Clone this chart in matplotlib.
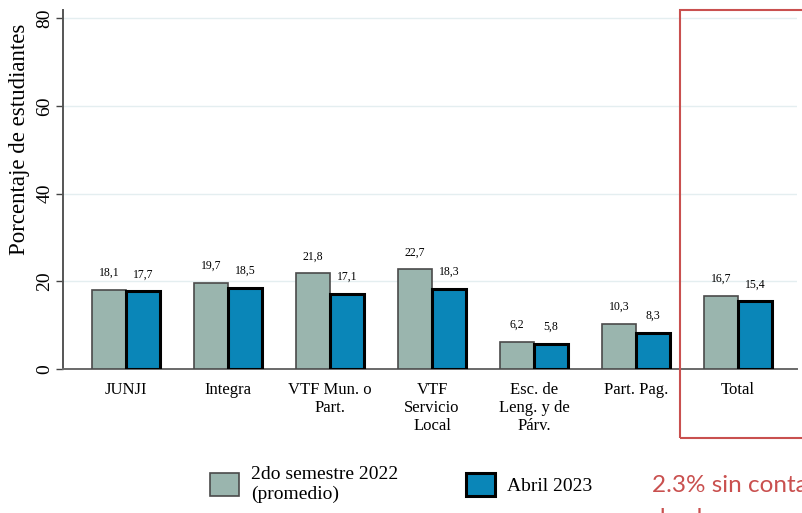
import matplotlib
matplotlib.use("Agg")
import matplotlib.pyplot as plt
from matplotlib.patches import Patch, Rectangle
import numpy as np

categories = ["JUNJI", "Integra", "VTF Mun. o\nPart.", "VTF\nServicio\nLocal",
              "Esc. de\nLeng. y de\nPárv.", "Part. Pag.", "Total"]
sem2_2022 = [18.1, 19.7, 21.8, 22.7, 6.2, 10.3, 16.7]
abril_2023 = [17.7, 18.5, 17.1, 18.3, 5.8, 8.3, 15.4]
series_names = ["2do semestre 2022\n(promedio)", "Abril 2023"]
y_ticks = [0, 20, 40, 60, 80]

gray = "#9ab5ae"
blue = "#0a86b8"
red = "#c9504f"
serif = "Liberation Serif"

W, H = 802, 513
fig = plt.figure(figsize=(W / 100, H / 100), dpi=100)
ax = fig.add_axes([63 / W, 144 / H, 734 / W, 359 / H])

x = np.arange(len(categories))
w = 0.333
b1 = ax.bar(x - w / 2, sem2_2022, w, color=gray, edgecolor="#4a4a4a", linewidth=1.2, zorder=3)
b2 = ax.bar(x + w / 2, abril_2023, w, color=blue, edgecolor="#000000", linewidth=2.2, zorder=3)

def fmt(v):
    return f"{v:.1f}".replace(".", ",")

for bars, vals in ((b1, sem2_2022), (b2, abril_2023)):
    for r, v in zip(bars, vals):
        ax.annotate(fmt(v), (r.get_x() + r.get_width() / 2, v), xytext=(0, 8),
                    textcoords="offset points", ha="center", va="bottom",
                    fontsize=8.5, family=serif)

ax.set_xlim(-0.62, 6.58)
ax.set_ylim(0, 81.9)
ax.set_xticks(x)
ax.set_xticklabels(categories, fontsize=12, family=serif, va="top")
ax.tick_params(axis="x", length=0, pad=9)
ax.set_yticks(y_ticks)
ax.set_yticklabels([str(t) for t in y_ticks], fontsize=14, family=serif,
                   rotation=90, va="center")
ax.tick_params(axis="y", length=5, width=1, pad=2, color="#444444")
ax.yaxis.grid(True, color="#e4eef0", linewidth=1, zorder=0)

for s in ("top", "right"):
    ax.spines[s].set_visible(False)
ax.spines["left"].set_color("#555555")
ax.spines["left"].set_linewidth(1.4)
ax.spines["bottom"].set_color("#6a6a6a")
ax.spines["bottom"].set_linewidth(1.4)

fig.text(20 / W, 1 - 139 / H, "Porcentaje de estudiantes", rotation=90,
         ha="center", va="center", fontsize=16.5, family=serif)

handles = [Patch(facecolor=gray, edgecolor="#4a4a4a", linewidth=1.2),
           Patch(facecolor=blue, edgecolor="#000000", linewidth=2.2)]
fig.legend(handles, series_names, loc="upper left",
           bbox_to_anchor=(210 / W, 1 - 466 / H), ncol=2, frameon=False,
           prop={"family": serif, "size": 14}, borderpad=0, borderaxespad=0,
           handlelength=1.5, handleheight=1.5, handletextpad=0.6,
           columnspacing=3.5)

# recuadro rojo alrededor de "Total" y nota
fig.patches.append(Rectangle((680 / W, 1 - 438 / H), 150 / W, 428 / H,
                             transform=fig.transFigure, fill=False,
                             edgecolor=red, linewidth=1.5))
fig.text(652 / W, 1 - 492 / H, "2.3% sin contacto", color=red,
         fontsize=17.5, family="Lato", ha="left", va="baseline")
fig.text(652 / W, 1 - 525 / H, "desde marzo", color=red,
         fontsize=17.5, family="Lato", ha="left", va="baseline")

fig.savefig("out.png", dpi=100)
